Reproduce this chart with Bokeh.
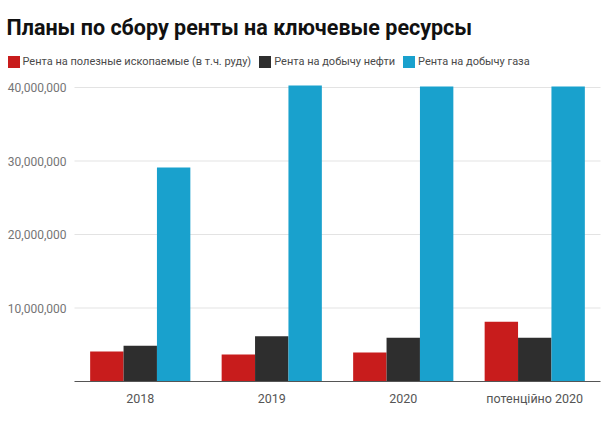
from bokeh.plotting import figure
from bokeh.models import Range1d, Legend, LegendItem, ColumnDataSource, Label
from bokeh.core.properties import value
from bokeh.transform import dodge
from bokeh.embed import file_html
from bokeh.resources import INLINE

categories = ["2018", "2019", "2020", "потенційно 2020"]
ore_rent = [4.08e6, 3.67e6, 3.95e6, 8.12e6]
oil_rent = [4.86e6, 6.16e6, 5.94e6, 5.94e6]
gas_rent = [29.1e6, 40.27e6, 40.14e6, 40.14e6]
series_names = ["Рента на полезные ископаемые (в т.ч. руду)", "Рента на добычу нефти", "Рента на добычу газа"]
colors = ["#C81C1C", "#2E2E2E", "#19A1CD"]
y_ticks = [10e6, 20e6, 30e6, 40e6]
y_tick_labels = [f"{v:,.0f}" for v in y_ticks]
title_text = "Планы по сбору ренты на ключевые ресурсы"

n = len(categories)
centers = [i + 0.5 for i in range(n)]
src = ColumnDataSource(dict(x=centers, cat=categories, base=[0] * n, ore=ore_rent, oil=oil_rent, gas=gas_rent))

W, H = 606, 421
LEFT = 74               # left edge of the category area, px
BASE = 381              # baseline, px from top
CAT_PX = 131.5          # pixels per category
M_PX = 73.5 / 10e6      # pixels per unit value
p = figure(width=W, height=H,
           x_range=Range1d(-LEFT / CAT_PX, (W - LEFT) / CAT_PX),
           y_range=Range1d(-(H - BASE) / M_PX, BASE / M_PX),
           output_backend="svg", toolbar_location=None,
           min_border_left=0, min_border_right=0, min_border_bottom=0, min_border_top=0)
p.axis.visible = False
p.grid.grid_line_color = None
p.outline_line_color = None

# value grid lines + labels
grid_src = ColumnDataSource(dict(y=y_ticks, lab=y_tick_labels, x0=[0] * len(y_ticks), x1=[n] * len(y_ticks)))
p.segment(x0="x0", x1="x1", y0="y", y1="y", source=grid_src, line_color="#E3E3E3", line_width=1)
p.text(x="x0", y="y", text="lab", source=grid_src, x_offset=-8, text_align="right", text_baseline="middle",
       text_font=value("Roboto"), text_font_size="12px", text_color="#757575")

# bars
w = 0.254
r1 = p.vbar(x=dodge("x", -w), top="ore", width=w, source=src, fill_color=colors[0], line_color=None)
r2 = p.vbar(x=dodge("x", 0), top="oil", width=w, source=src, fill_color=colors[1], line_color=None)
r3 = p.vbar(x=dodge("x", w), top="gas", width=w, source=src, fill_color=colors[2], line_color=None)

# baseline and category labels
p.segment(x0=[0], x1=[n], y0=[0], y1=[0], line_color="#555555", line_width=1.2)
p.text(x="x", y="base", text="cat", source=src, y_offset=17, text_align="center", text_baseline="middle",
       text_font=value("Roboto"), text_font_size="12.5px", text_color="#555555")

# title
title = Label(x=6, y=394, x_units="screen", y_units="screen", text=title_text,
              text_font="Roboto", text_font_size="21.5px", text_font_style="bold",
              text_color="#111111", text_baseline="alphabetic", text_align="left")
p.add_layout(title)

# legend
legend = Legend(items=[LegendItem(label=series_names[0], renderers=[r1]),
                       LegendItem(label=series_names[1], renderers=[r2]),
                       LegendItem(label=series_names[2], renderers=[r3])],
                orientation="horizontal", location=(5.5, 352.5),
                label_text_font="Roboto", label_text_font_size="11px", label_text_color="#4A4A4A",
                glyph_width=15, glyph_height=15, label_standoff=2, spacing=6, label_height=15,
                border_line_color=None, background_fill_alpha=0, padding=0, margin=0)
p.add_layout(legend, "center")

open("out.html", "w").write(file_html(p, INLINE))
